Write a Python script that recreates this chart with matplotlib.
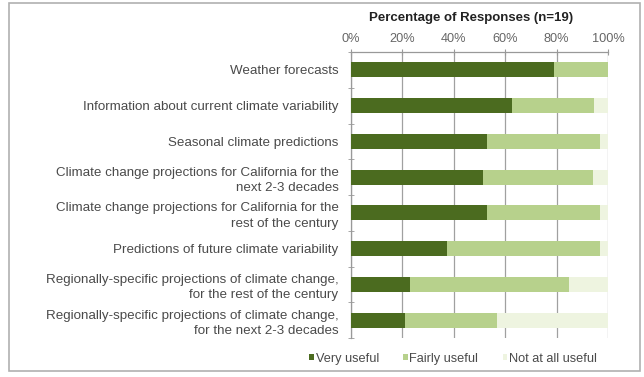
import matplotlib
matplotlib.use("Agg")
import matplotlib.pyplot as plt
from matplotlib.patches import Rectangle
import numpy as np

categories = [
    "Weather forecasts",
    "Information about current climate variability",
    "Seasonal climate predictions",
    "Climate change projections for California for the\nnext 2-3 decades",
    "Climate change projections for California for the\nrest of the century",
    "Predictions of future climate variability",
    "Regionally-specific projections of climate change,\nfor the rest of the century",
    "Regionally-specific projections of climate change,\nfor the next 2-3 decades",
]
very_useful = [79, 62.5, 53, 51.5, 53, 37.5, 23, 21]
fairly_useful = [21, 32, 44, 42.5, 44, 59.5, 62, 36]
not_useful = [0, 5.5, 3, 6, 3, 3, 15, 43]
series_names = ["Very useful", "Fairly useful", "Not at all useful"]
xticks = [0, 20, 40, 60, 80, 100]
xtick_labels = ["0%", "20%", "40%", "60%", "80%", "100%"]
title = "Percentage of Responses (n=19)"

colors = ["#4b6b1f", "#b7d18c", "#eef4e0"]
font = "Liberation Sans"

fig = plt.figure(figsize=(6.44, 3.77), dpi=100)
fig.patch.set_facecolor("white")
# outer frame
fig.add_artist(Rectangle((9 / 644, 1 - 371 / 377), 631 / 644, 368 / 377,
                         transform=fig.transFigure, fill=False,
                         edgecolor="#b0b0b0", linewidth=1.2))

ax = fig.add_axes([351 / 644, 1 - 338 / 377, 257 / 644, 286 / 377])
y = np.arange(len(categories))
h = 0.42
left = np.zeros(len(categories))
for vals, c, name in zip([very_useful, fairly_useful, not_useful], colors, series_names):
    ax.barh(y, vals, left=left, height=h, color=c, label=name, zorder=3)
    left += np.array(vals)

ax.set_xlim(0, 100)
ax.set_ylim(len(categories) - 0.5, -0.5)
ax.xaxis.tick_top()
ax.set_xticks(xticks)
ax.set_xticklabels(xtick_labels, fontsize=9.2, color="#666666", family=font)
ax.tick_params(axis="x", length=4, color="#999999", pad=3, direction="inout")
ax.set_yticks(y)
ax.set_yticklabels(categories, fontsize=9.6, color="#4a4a4a", family=font,
                   linespacing=1.4)
ax.tick_params(axis="y", length=0, pad=9)
ax.set_yticks(np.arange(-0.5, len(categories), 1), minor=True)
ax.tick_params(axis="y", which="minor", length=4, color="#999999", direction="inout")
ax.grid(axis="x", color="#a0a0a0", linewidth=0.9, zorder=0)
for s in ["right", "bottom"]:
    ax.spines[s].set_visible(False)
for s in ["top", "left"]:
    ax.spines[s].set_color("#999999")
    ax.spines[s].set_linewidth(0.9)
ax.set_facecolor("white")

fig.text(471 / 644, 1 - 18 / 377, title, ha="center", va="center",
         fontsize=9.5, fontweight="bold", color="#222222", family=font)

leg = fig.legend(loc="center", bbox_to_anchor=(453 / 644, 1 - 359 / 377),
                 ncol=3, frameon=False, handlelength=0.35,
                 handleheight=0.35, handletextpad=0.15, columnspacing=1.9,
                 prop={"family": font, "size": 9.2})
for t in leg.get_texts():
    t.set_color("#4a4a4a")

fig.savefig("out.png", dpi=100, facecolor="white")
